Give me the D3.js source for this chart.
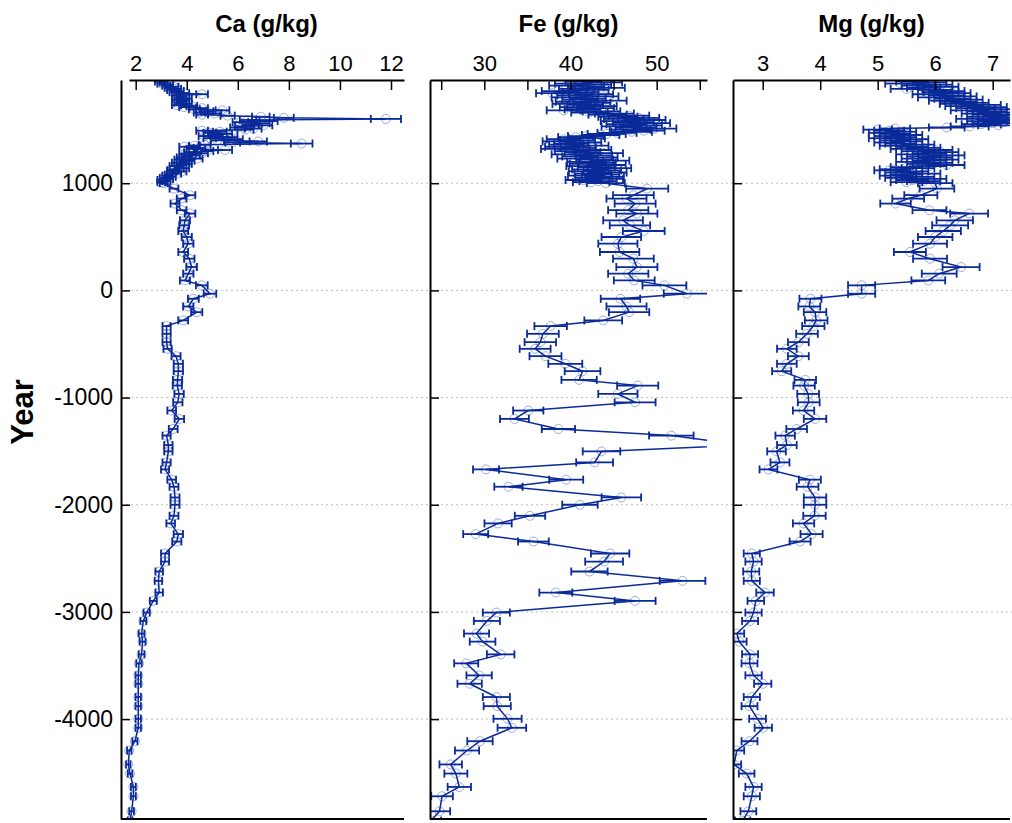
<!DOCTYPE html>
<html>
<head>
<meta charset="utf-8">
<script src="https://cdn.jsdelivr.net/npm/d3@7"></script>
<style>
  body { margin: 0; background: #fff; }
  text { font-family: 'Liberation Sans', Arial, sans-serif; }
</style>
</head>
<body>
<div id="chart"></div>
<script>
// sample ages (year AD, negative = BC)
const years = [
  1950, 1940, 1930, 1920, 1910, 1900, 1890, 1880, 1870, 1860,
  1850, 1840, 1830, 1820, 1810, 1800, 1790, 1780, 1770, 1760,
  1750, 1740, 1730, 1720, 1710, 1700, 1690, 1680, 1670, 1660,
  1650, 1640, 1630, 1620, 1610, 1600, 1590, 1580, 1570, 1560,
  1550, 1540, 1530, 1520, 1510, 1500, 1490, 1480, 1470, 1460,
  1450, 1440, 1430, 1420, 1410, 1400, 1390, 1380, 1370, 1360,
  1350, 1340, 1330, 1320, 1310, 1300, 1290, 1280, 1270, 1260,
  1250, 1240, 1230, 1220, 1210, 1200, 1190, 1180, 1170, 1160,
  1150, 1140, 1130, 1120, 1110, 1100, 1090, 1080, 1070, 1060,
  1050, 1040, 1030, 1020, 1010, 1000,
  950, 888, 857, 810, 748, 717, 654, 607, 554, 498,
  436, 358, 296, 218, 156, 93, 47, -31, -78, -150,
  -203, -280, -333, -405, -483, -545, -614, -685, -754, -835,
  -888, -966, -1044, -1121, -1199, -1293, -1355, -1443, -1502, -1605,
  -1670, -1766, -1832, -1932, -2000, -2103, -2174, -2274, -2343, -2455,
  -2530, -2623, -2710, -2819, -2897, -3006, -3084, -3202, -3277, -3396,
  -3480, -3592, -3670, -3794, -3879, -3997, -4081, -4206, -4293, -4423,
  -4508, -4633, -4720, -4860, -4947
]

const caValues = [
  2.9, 3.1, 3.0, 3.3, 3.2, 3.5, 3.3, 3.6, 3.4, 3.7,
  3.5, 3.9, 4.6, 3.6, 3.8, 3.7, 4.0, 3.6, 3.9, 3.8,
  3.7, 4.0, 3.6, 4.2, 3.9, 4.6, 4.3, 5.4, 4.8, 4.5,
  5.1, 4.6, 5.6, 6.9, 7.8, 11.8, 6.4, 7.2, 6.1, 6.9,
  6.5, 7.0, 6.2, 6.0, 6.6, 6.3, 4.6, 5.3, 4.9, 5.5,
  5.1, 4.7, 5.7, 4.9, 5.9, 5.2, 6.8, 5.8, 8.5, 4.7,
  4.3, 3.9, 4.5, 4.2, 5.5, 4.8, 4.1, 4.6, 3.9, 4.3,
  4.0, 3.8, 4.4, 3.7, 4.1, 3.9, 3.6, 4.0, 3.8, 3.5,
  3.7, 3.9, 3.5, 3.4, 3.8, 3.4, 3.6, 3.3, 3.2, 3.4,
  3.1, 3.3, 3.0, 3.2, 3.0, 3.1,
  3.5, 4.13, 3.8, 3.54, 3.80, 4.13, 3.93, 3.9, 3.86, 4.0,
  4.06, 3.86, 4.10, 4.19, 4.06, 3.93, 4.59, 4.91, 4.26, 4.06,
  4.39, 3.86, 3.21, 3.21, 3.21, 3.25, 3.58, 3.67, 3.67, 3.64,
  3.63, 3.70, 3.65, 3.41, 3.71, 3.47, 3.21, 3.28, 3.28, 3.21,
  3.15, 3.41, 3.50, 3.54, 3.54, 3.50, 3.37, 3.67, 3.61, 3.15,
  3.15, 2.92, 2.89, 2.92, 2.69, 2.43, 2.30, 2.23, 2.27, 2.23,
  2.13, 2.10, 2.10, 2.10, 2.10, 2.10, 2.10, 1.97, 1.75, 1.71,
  1.78, 1.91, 1.91, 1.84, 1.78
]

const feValues = [
  41.5, 43.8, 40.2, 42.6, 39.5, 41.8, 44.1, 40.7, 42.3, 38.6,
  41.2, 37.9, 42.8, 40.5, 43.4, 39.8, 42.0, 41.1, 44.3, 40.3,
  42.5, 39.9, 41.7, 43.2, 40.8, 42.9, 41.4, 39.2, 43.6, 42.2,
  45.1, 44.3, 46.8, 45.5, 47.9, 46.2, 48.6, 45.8, 47.3, 49.1,
  46.5, 48.2, 45.9, 47.6, 49.8, 46.9, 48.5, 47.1, 45.4, 44.2,
  43.5, 41.8, 40.6, 41.9, 39.2, 40.8, 38.7, 41.5, 40.1, 39.5,
  42.3, 39.0, 40.9, 38.5, 42.6, 40.2, 41.4, 43.9, 39.8, 42.7,
  41.1, 43.3, 40.5, 42.8, 44.6, 41.7, 43.1, 42.0, 44.2, 41.6,
  43.0, 44.8, 42.3, 43.7, 41.9, 44.3, 42.6, 43.5, 41.8, 44.0,
  42.7, 43.9, 41.5, 43.2, 42.4, 44.1,
  48.9, 47.3, 46.5, 47.5, 46.7, 47.7, 46.1, 46.9, 48.5, 45.9,
  45.5, 45.7, 47.3, 47.7, 46.7, 47.4, 50.9, 53.5, 45.8, 46.5,
  46.8, 43.8, 37.7, 36.8, 36.5, 35.9, 37.1, 39.4, 41.4, 41.0,
  47.8, 45.5, 47.5, 35.1, 33.5, 38.6, 51.7, 60.0, 43.6, 42.8,
  30.2, 39.5, 32.8, 45.9, 41.1, 35.3, 31.6, 29.0, 35.7, 44.6,
  43.9, 42.2, 53.0, 38.3, 47.5, 31.4, 30.3, 29.1, 29.8, 31.9,
  27.9, 29.4, 28.3, 31.4, 31.5, 32.7, 33.2, 29.5, 28.0, 26.1,
  26.7, 27.1, 25.1, 24.8, 23.8
]

const mgValues = [
  5.6, 5.9, 5.4, 6.0, 5.7, 6.1, 5.8, 5.5, 6.0, 6.2,
  6.1, 6.3, 5.9, 6.2, 6.4, 6.0, 6.3, 6.5, 6.2, 6.4,
  6.6, 6.4, 6.8, 6.5, 6.9, 6.7, 7.0, 6.6, 6.9, 7.1,
  6.8, 7.0, 7.2, 6.9, 7.3, 6.7, 7.1, 6.9, 7.2, 7.0,
  6.8, 7.1, 6.6, 6.2, 5.3, 5.0, 5.2, 5.4, 5.1, 5.3,
  5.5, 5.2, 5.4, 5.1, 5.6, 5.3, 5.5, 5.2, 5.4, 5.7,
  5.3, 5.6, 5.8, 5.5, 6.0, 5.7, 6.1, 5.9, 5.6, 6.2,
  5.8, 6.0, 5.7, 6.1, 5.9, 5.6, 6.0, 5.8, 6.2, 5.9,
  5.5, 5.7, 5.3, 5.2, 5.6, 5.4, 5.8, 5.5, 5.3, 5.7,
  5.4, 5.9, 5.6, 5.8, 5.5, 6.0,
  6.03, 5.75, 5.53, 5.31, 5.9, 6.59, 6.34, 6.26, 6.14, 6.0,
  5.91, 5.56, 5.91, 6.45, 6.07, 5.88, 4.72, 4.72, 3.83, 3.81,
  3.91, 3.93, 3.88, 3.77, 3.62, 3.42, 3.62, 3.42, 3.33, 3.74,
  3.72, 3.79, 3.8, 3.71, 3.91, 3.59, 3.39, 3.42, 3.24, 3.30,
  3.10, 3.82, 3.78, 3.91, 3.91, 3.90, 3.71, 3.85, 3.65, 2.81,
  2.84, 2.80, 2.81, 3.04, 2.88, 2.84, 2.78, 2.55, 2.59, 2.78,
  2.77, 2.84, 3.0, 2.81, 2.77, 2.91, 3.01, 2.77, 2.55, 2.50,
  2.72, 2.84, 2.81, 2.75, 2.65
]

// relative analytical error (about 5% of the value)
const relError = 0.05

const yTicks = [1000, 0, -1000, -2000, -3000, -4000]
const caTicks = [2, 4, 6, 8, 10, 12]
const feTicks = [25, 30, 35, 40, 45, 50, 55]
const feLabels = [30, 40, 50]
const mgTicks = [3, 4, 5, 6, 7]

const width = 1012
const height = 823
const plotTop = 80
const plotBottom = 819
const blue = '#0a2a99'

let panels = [
  { title: 'Ca (g/kg)', values: caValues, domain: [1.738, 12.509], ticks: caTicks, labels: caTicks, x0: 121, xs: 129, x1: 404 },
  { title: 'Fe (g/kg)', values: feValues, domain: [23.70, 55.84], ticks: feTicks, labels: feLabels, x0: 430, xs: 430, x1: 707 },
  { title: 'Mg (g/kg)', values: mgValues, domain: [2.483, 7.301], ticks: mgTicks, labels: mgTicks, x0: 733, xs: 733, x1: 1010 }
]

let svg = d3.select('#chart')
  .append('svg')
  .attr('width', width)
  .attr('height', height)

let y = d3.scaleLinear()
  .domain([-4932, 1963])
  .range([plotBottom, plotTop])

// dotted grid lines, across all panels
svg.selectAll('.grid')
  .data(yTicks)
  .enter()
  .append('line')
  .attr('class', 'grid')
  .attr('x1', 121)
  .attr('x2', width)
  .attr('y1', d => y(d))
  .attr('y2', d => y(d))
  .attr('stroke', '#bdbdbd')
  .attr('stroke-width', 1)
  .attr('stroke-dasharray', '2,3')

panels.forEach((p, i) => {
  let x = d3.scaleLinear().domain(p.domain).range([p.xs, p.x1])
  let data = years.map((yr, j) => ({ year: yr, v: p.values[j], e: p.values[j] * relError }))

  svg.append('clipPath')
    .attr('id', 'clip' + i)
    .append('rect')
    .attr('x', p.x0)
    .attr('y', plotTop)
    .attr('width', p.x1 - p.x0)
    .attr('height', plotBottom - plotTop)

  let g = svg.append('g').attr('clip-path', `url(#clip${i})`)

  // circles (faint)
  g.selectAll('.pt')
    .data(data)
    .enter()
    .append('circle')
    .attr('class', 'pt')
    .attr('cx', d => x(d.v))
    .attr('cy', d => y(d.year))
    .attr('r', 4.5)
    .attr('fill', 'none')
    .attr('stroke', '#7d90d2')
    .attr('stroke-opacity', 0.75)
    .attr('stroke-width', 1)

  // error bars
  let bars = g.selectAll('.err')
    .data(data)
    .enter()
    .append('g')
    .attr('class', 'err')
    .attr('stroke', blue)
    .attr('stroke-width', 1.8)

  bars.append('line')
    .attr('x1', d => x(d.v - d.e))
    .attr('x2', d => x(d.v + d.e))
    .attr('y1', d => y(d.year))
    .attr('y2', d => y(d.year))

  bars.append('line')
    .attr('x1', d => x(d.v - d.e))
    .attr('x2', d => x(d.v - d.e))
    .attr('y1', d => y(d.year) - 4)
    .attr('y2', d => y(d.year) + 4)

  bars.append('line')
    .attr('x1', d => x(d.v + d.e))
    .attr('x2', d => x(d.v + d.e))
    .attr('y1', d => y(d.year) - 4)
    .attr('y2', d => y(d.year) + 4)

  let line = d3.line()
    .x(d => x(d.v))
    .y(d => y(d.year))

  g.append('path')
    .datum(data)
    .attr('d', line)
    .attr('fill', 'none')
    .attr('stroke', blue)
    .attr('stroke-width', 1.5)

  // top axis
  let xAxis = d3.axisTop(x)
    .tickValues(p.ticks)
    .tickSize(-10)
    .tickSizeOuter(0)
    .tickPadding(9)
    .tickFormat(d => p.labels.includes(d) ? d : '')

  let ax = svg.append('g')
    .attr('transform', `translate(0,${plotTop})`)
    .call(xAxis)
  ax.select('.domain').attr('stroke', '#000').attr('stroke-width', 2)
  ax.selectAll('.tick line').attr('stroke', '#000').attr('stroke-width', 1.5)
  ax.selectAll('.tick text')
    .attr('fill', '#000')
    .style('font-size', '22px')
    .style('font-family', "'Liberation Sans', Arial, sans-serif")

  // left axis, ticks pointing inward
  let yAxis = d3.axisLeft(y)
    .tickValues(yTicks)
    .tickSize(-9)
    .tickSizeOuter(0)
    .tickPadding(8)
    .tickFormat(d => i === 0 ? d : '')

  let ay = svg.append('g')
    .attr('transform', `translate(${p.x0},0)`)
    .call(yAxis)
  ay.select('.domain').attr('stroke', '#000').attr('stroke-width', 2)
  ay.selectAll('.tick line').attr('stroke', '#000').attr('stroke-width', 1.5)
  ay.selectAll('.tick text')
    .attr('fill', '#000')
    .style('font-size', '23px')
    .style('font-family', "'Liberation Sans', Arial, sans-serif")

  // bottom line
  svg.append('line')
    .attr('x1', p.x0)
    .attr('x2', p.x1)
    .attr('y1', plotBottom)
    .attr('y2', plotBottom)
    .attr('stroke', '#000')
    .attr('stroke-width', 2)

  // panel title
  svg.append('text')
    .text(p.title)
    .attr('x', (p.xs + p.x1) / 2)
    .attr('y', 32)
    .attr('text-anchor', 'middle')
    .attr('font-weight', 'bold')
    .attr('font-size', 24)
})

svg.append('text')
  .text('Year')
  .attr('transform', 'translate(33,412) rotate(-90)')
  .attr('text-anchor', 'middle')
  .attr('font-weight', 'bold')
  .attr('font-size', 31)
</script>
</body>
</html>
